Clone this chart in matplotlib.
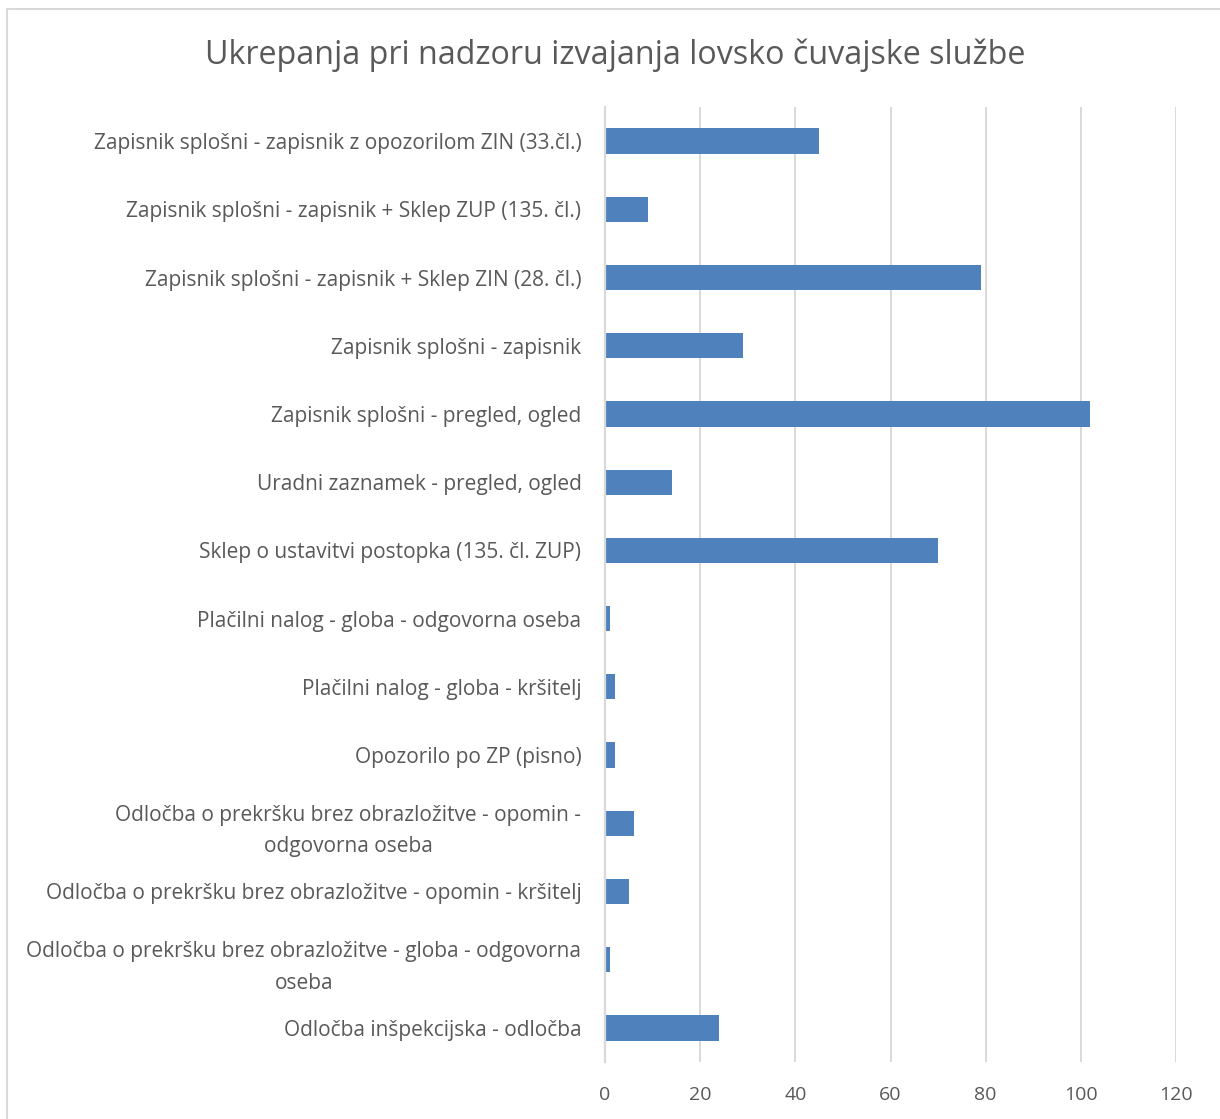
import matplotlib.pyplot as plt
from matplotlib.patches import Rectangle

categories = [
    "Zapisnik splošni - zapisnik z opozorilom ZIN (33.čl.)",
    "Zapisnik splošni - zapisnik + Sklep ZUP (135. čl.)",
    "Zapisnik splošni - zapisnik + Sklep ZIN (28. čl.)",
    "Zapisnik splošni - zapisnik",
    "Zapisnik splošni - pregled, ogled",
    "Uradni zaznamek - pregled, ogled",
    "Sklep o ustavitvi postopka (135. čl. ZUP)",
    "Plačilni nalog - globa - odgovorna oseba",
    "Plačilni nalog - globa - kršitelj",
    "Opozorilo po ZP (pisno)",
    "Odločba o prekršku brez obrazložitve - opomin -\nodgovorna oseba",
    "Odločba o prekršku brez obrazložitve - opomin - kršitelj",
    "Odločba o prekršku brez obrazložitve - globa - odgovorna\noseba",
    "Odločba inšpekcijska - odločba",
]
values = [45, 9, 79, 29, 102, 14, 70, 1, 2, 2, 6, 5, 1, 24]
xticks = [0, 20, 40, 60, 80, 100, 120]

title = "Ukrepanja pri nadzoru izvajanja lovsko čuvajske službe"
text_color = "#595959"
grid_color = "#d9d9d9"
bar_color = "#4f81bd"

fig = plt.figure(figsize=(12.2, 11.19), dpi=100)
ax = fig.add_axes([605 / 1220, 1 - 1062 / 1119, (1176 - 605) / 1220, (1062 - 107) / 1119])

pos = list(range(len(categories)))
ax.barh(pos, values, height=0.37, color=bar_color, zorder=3)
ax.set_ylim(len(categories) - 0.5, -0.5)
ax.set_xlim(0, 120)

ax.set_yticks(pos)
ax.set_yticklabels(categories, fontsize=15, color=text_color, family="Open Sans",
                   ha="right", multialignment="center", linespacing=1.65)
ax.set_xticks(xticks)
ax.set_xticklabels([str(t) for t in xticks], fontsize=14, color=text_color, family="Open Sans")
ax.tick_params(axis="y", length=0, pad=17)
ax.tick_params(axis="x", length=0, pad=17)

ax.grid(axis="x", color=grid_color, linewidth=1.4, zorder=0)
for side in ["top", "right", "bottom"]:
    ax.spines[side].set_visible(False)
ax.spines["left"].set_color(grid_color)
ax.spines["left"].set_linewidth(1.6)
ax.spines["left"].set_zorder(4)

fig.text(615 / 1220, 1 - 55 / 1119, title, ha="center", va="center",
         fontsize=23.2, color=text_color, family="Open Sans")

# chart frame
fig.patches.append(Rectangle((7 / 1220, -0.05), 1.1, 1 - 9 / 1119 + 0.05,
                             transform=fig.transFigure, fill=False,
                             edgecolor=grid_color, linewidth=1.5))

fig.savefig("out.png", dpi=100, facecolor="white")
